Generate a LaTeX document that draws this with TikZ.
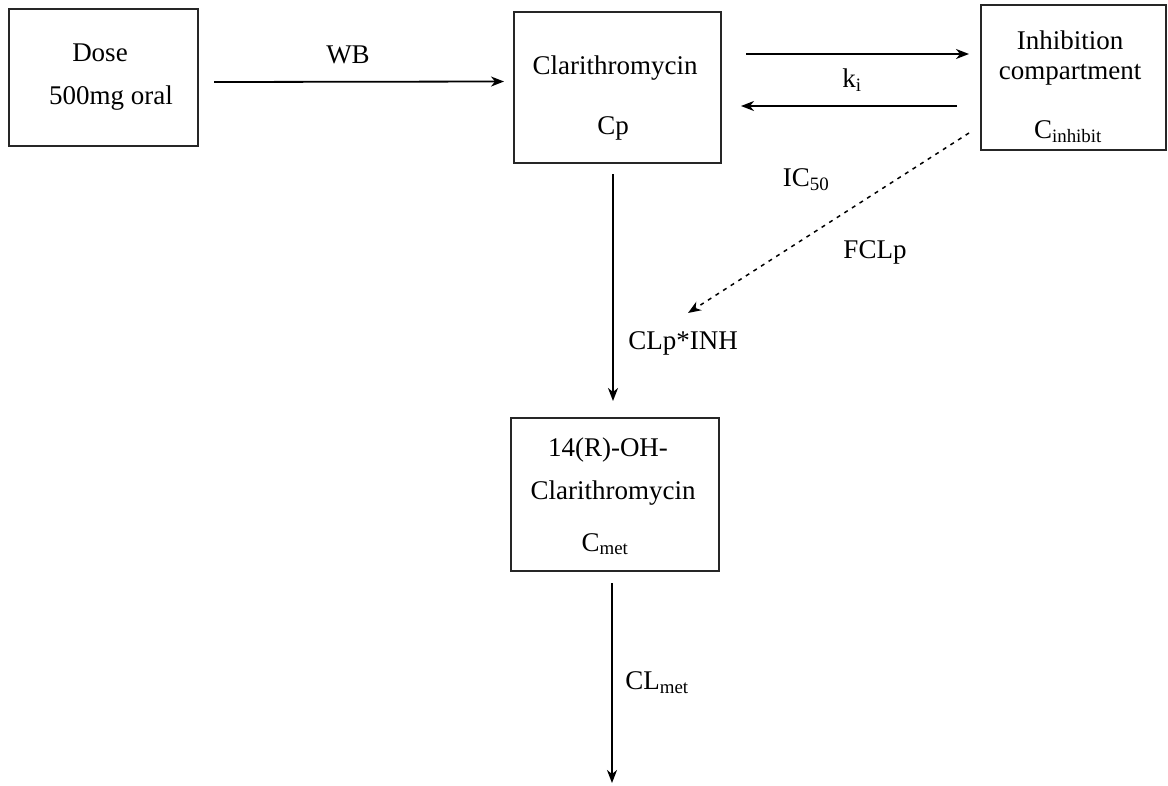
\documentclass[tikz,border=0pt]{standalone}
\usepackage{fontspec}
\setmainfont{Liberation Serif}
\usetikzlibrary{arrows.meta}
\begin{document}
\begin{tikzpicture}[x=1pt,y=-1pt,
  box/.style={draw=black!85,line width=2pt,inner sep=0pt},
  txt/.style={inner sep=0pt,font=\fontsize{27}{32}\selectfont},
  arr/.style={line width=1.8pt,-{Stealth[length=13pt,width=10pt,inset=4pt]}},
  dasharr/.style={line width=1.5pt,dash pattern=on 4pt off 5pt,-{Stealth[length=13pt,width=10pt,inset=4pt]}}]
\useasboundingbox (0,0) rectangle (1168,785);
% boxes
\node[box,minimum width=189pt,minimum height=137pt] (dose) at (103.5,77.5) {};
\node[box,minimum width=207pt,minimum height=151pt] (cp) at (617.5,87.5) {};
\node[box,minimum width=185pt,minimum height=145pt] (inh) at (1073.5,77.5) {};
\node[box,minimum width=208pt,minimum height=153pt] (met) at (615,494.5) {};
% box texts
\node[txt] (dose1) at (100,53) {Dose};
\node[txt] (dose2) at (111,98) {500mg oral};
\node[txt] (cp1) at (615,68) {Clarithromycin};
\node[txt] (cp2) at (613,128) {Cp};
\node[txt] (inh1) at (1070,40) {Inhibition};
\node[txt] (inh2) at (1070,75) {compartment};
\node[txt,anchor=base] (inh3) at (1068,138) {C\textsubscript{inhibit}};
\node[txt] (met1) at (608,450) {14(R)-OH-};
\node[txt] (met2) at (613,493) {Clarithromycin};
\node[txt,anchor=base] (met3) at (605,551) {C\textsubscript{met}};
% free ends
\coordinate (tip) at (688,313);
\coordinate (out) at (612,783);
% connectors
\draw[arr] ([xshift=15pt,yshift=-4.5pt]dose.east) -- ([xshift=-9pt,yshift=6pt]cp.west);
\draw[arr] ([xshift=24pt,yshift=33.5pt]cp.east) -- ([xshift=-11pt,yshift=23.5pt]inh.west);
\draw[arr] ([xshift=-23pt,yshift=-28.5pt]inh.west) -- ([xshift=19pt,yshift=-18.5pt]cp.east);
\draw[dasharr] ([xshift=-11pt,yshift=-55.5pt]inh.west) -- (tip);
\draw[arr] ([xshift=-4.5pt,yshift=-10pt]cp.south) -- ([xshift=-2pt,yshift=16pt]met.north);
\draw[arr] ([xshift=-3pt,yshift=-11pt]met.south) -- (out);
% labels
\node[txt] (wb) at (348,55) {WB};
\node[txt] (ki) at (852,80) {k\textsubscript{i}};
\node[txt] (ic) at (806,180) {IC\textsubscript{50}};
\node[txt] (fclp) at (875,252) {FCLp};
\node[txt] (clpinh) at (683,343) {CLp*INH};
\node[txt] (clmet) at (657,683) {CL\textsubscript{met}};
\end{tikzpicture}
\end{document}
